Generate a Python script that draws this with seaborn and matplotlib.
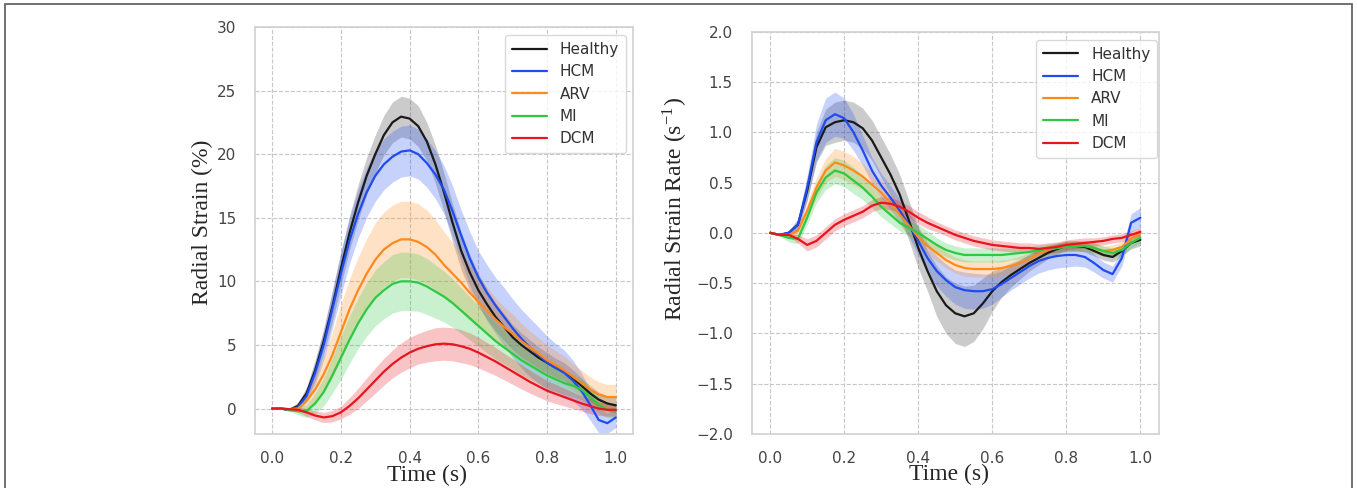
import matplotlib
matplotlib.use("Agg")
import matplotlib.pyplot as plt
import seaborn as sns
import numpy as np
from matplotlib.patches import Rectangle

# ---------------- data ----------------
time_s = [0.0, 0.025, 0.05, 0.075, 0.1, 0.125, 0.15, 0.175, 0.2, 0.225,
          0.25, 0.275, 0.3, 0.325, 0.35, 0.375, 0.4, 0.425, 0.45, 0.475,
          0.5, 0.525, 0.55, 0.575, 0.6, 0.625, 0.65, 0.675, 0.7, 0.725,
          0.75, 0.775, 0.8, 0.825, 0.85, 0.875, 0.9, 0.925, 0.95, 0.975, 1.0]
groups = ["Healthy", "HCM", "ARV", "MI", "DCM"]
colors = ["#1a1a1a", "#1f4cf0", "#ff8a1c", "#2ec942", "#e8141e"]
band_colors = ["#555555", "#1f4cf0", "#ff8a1c", "#2ec942", "#e8141e"]

# Radial strain (%) mean curves
strain_healthy = [0, 0, -0.1, 0.2, 1.2, 3.0, 5.3, 8.0, 11.0, 13.8,
                  16.2, 18.3, 20.0, 21.5, 22.5, 22.95, 22.8, 22.2, 21.0, 19.2,
                  17.0, 14.6, 12.4, 10.7, 9.3, 8.2, 7.2, 6.4, 5.6, 5.0,
                  4.5, 4.0, 3.6, 3.2, 2.9, 2.4, 1.8, 1.2, 0.7, 0.4, 0.25]
strain_hcm = [0, 0, -0.1, 0.1, 1.0, 2.8, 5.0, 7.8, 10.6, 13.2,
              15.3, 17.0, 18.3, 19.2, 19.8, 20.2, 20.3, 20.0, 19.3, 18.4,
              17.2, 15.5, 13.6, 11.8, 10.3, 9.1, 8.1, 7.2, 6.3, 5.5,
              4.8, 4.2, 3.6, 3.2, 2.8, 2.2, 1.4, 0.3, -0.9, -1.15, -0.7]
strain_arv = [0, 0, -0.05, 0, 0.6, 1.5, 2.7, 4.2, 6.0, 7.8,
              9.3, 10.6, 11.7, 12.5, 13.0, 13.3, 13.3, 13.1, 12.7, 12.1,
              11.3, 10.6, 9.9, 9.1, 8.4, 7.7, 7.0, 6.4, 5.9, 5.3,
              4.8, 4.3, 3.8, 3.4, 3.0, 2.5, 2.0, 1.5, 1.1, 0.9, 0.9]
strain_mi = [0, 0, -0.1, -0.2, -0.2, 0.4, 1.3, 2.6, 4.0, 5.4,
             6.7, 7.8, 8.7, 9.3, 9.8, 10.0, 10.0, 9.9, 9.6, 9.2,
             8.8, 8.3, 7.7, 7.1, 6.5, 5.9, 5.3, 4.8, 4.3, 3.8,
             3.4, 3.0, 2.6, 2.3, 2.0, 1.8, 1.5, 0.9, 0.3, -0.1, -0.2]
strain_dcm = [0, 0, -0.05, -0.1, -0.3, -0.55, -0.7, -0.6, -0.3, 0.2,
              0.8, 1.5, 2.2, 2.9, 3.5, 4.0, 4.4, 4.7, 4.9, 5.05,
              5.1, 5.05, 4.9, 4.7, 4.4, 4.05, 3.7, 3.3, 2.9, 2.5,
              2.1, 1.75, 1.4, 1.15, 0.9, 0.65, 0.4, 0.2, 0.0, -0.1, -0.1]

# Radial strain spread (half band width)
strain_sd_healthy = [0, .05, .1, .3, .5, .8, 1.0, 1.2, 1.3, 1.35,
                     1.4, 1.45, 1.5, 1.55, 1.6, 1.6, 1.6, 1.6, 1.5, 1.5,
                     1.5, 1.5, 1.5, 1.4, 1.3, 1.2, 1.1, 1.05, 1.0, 0.95,
                     0.9, 0.85, 0.8, 0.75, 0.7, 0.65, 0.6, 0.6, 0.6, 0.6, 0.6]
strain_sd_hcm = [0, .05, .1, .3, .5, .9, 1.2, 1.5, 1.7, 1.8,
                 1.9, 1.95, 2.0, 2.0, 2.0, 2.0, 2.0, 1.95, 1.9, 1.9,
                 1.9, 2.0, 2.0, 2.1, 2.1, 2.2, 2.2, 2.3, 2.3, 2.3,
                 2.3, 2.2, 2.1, 1.9, 1.8, 1.6, 1.4, 1.2, 1.0, 0.8, 0.8]
strain_sd_arv = [0, .05, .1, .3, .6, 1.0, 1.4, 1.8, 2.2, 2.4,
                 2.6, 2.75, 2.9, 2.95, 3.0, 3.0, 3.0, 3.0, 2.9, 2.75,
                 2.6, 2.45, 2.3, 2.15, 2.0, 1.85, 1.7, 1.6, 1.5, 1.4,
                 1.3, 1.25, 1.2, 1.15, 1.1, 1.05, 1.0, 1.0, 1.0, 1.0, 1.0]
strain_sd_mi = [0, .05, .1, .3, .5, .8, 1.1, 1.4, 1.7, 1.85,
                2.0, 2.1, 2.2, 2.25, 2.3, 2.3, 2.3, 2.25, 2.2, 2.1,
                2.0, 1.9, 1.8, 1.7, 1.6, 1.5, 1.4, 1.3, 1.2, 1.15,
                1.1, 1.05, 1.0, 0.95, 0.9, 0.85, 0.8, 0.7, 0.65, 0.6, 0.6]
strain_sd_dcm = [0, .05, .1, .2, .3, .35, .4, .45, .5, .65,
                 .8, .9, 1.0, 1.05, 1.1, 1.15, 1.2, 1.2, 1.25, 1.3,
                 1.3, 1.3, 1.3, 1.25, 1.2, 1.15, 1.1, 1.05, 1.0, 0.95,
                 0.9, 0.85, 0.8, 0.75, 0.7, 0.65, 0.6, 0.6, 0.55, 0.5, 0.5]

# Radial strain rate (1/s) mean curves
rate_healthy = [0, -0.02, 0.0, 0.08, 0.42, 0.85, 1.05, 1.1, 1.12, 1.1,
                1.04, 0.92, 0.75, 0.58, 0.38, 0.12, -0.15, -0.38, -0.58, -0.72,
                -0.8, -0.83, -0.8, -0.7, -0.58, -0.49, -0.42, -0.36, -0.3, -0.25,
                -0.2, -0.16, -0.13, -0.13, -0.14, -0.18, -0.22, -0.24, -0.18, -0.1, -0.07]
rate_hcm = [0, -0.02, 0.0, 0.08, 0.45, 0.9, 1.12, 1.18, 1.14, 1.0,
            0.82, 0.62, 0.47, 0.35, 0.22, 0.08, -0.08, -0.25, -0.38, -0.47,
            -0.54, -0.57, -0.58, -0.58, -0.56, -0.51, -0.45, -0.39, -0.33, -0.28,
            -0.25, -0.23, -0.22, -0.22, -0.24, -0.3, -0.37, -0.41, -0.25, 0.1, 0.15]
rate_arv = [0, -0.02, -0.02, 0.02, 0.22, 0.45, 0.62, 0.7, 0.67, 0.62,
            0.56, 0.48, 0.4, 0.3, 0.18, 0.07, -0.04, -0.13, -0.2, -0.27,
            -0.32, -0.35, -0.36, -0.36, -0.36, -0.35, -0.33, -0.3, -0.26, -0.21,
            -0.17, -0.15, -0.13, -0.13, -0.13, -0.15, -0.18, -0.17, -0.14, -0.06, 0.0]
rate_mi = [0, -0.02, -0.05, -0.06, 0.15, 0.4, 0.55, 0.62, 0.59, 0.52,
           0.45, 0.36, 0.26, 0.18, 0.1, 0.05, 0.0, -0.06, -0.12, -0.17,
           -0.2, -0.22, -0.22, -0.22, -0.22, -0.22, -0.21, -0.2, -0.19, -0.17,
           -0.16, -0.15, -0.14, -0.13, -0.13, -0.15, -0.18, -0.2, -0.17, -0.1, -0.05]
rate_dcm = [0, -0.02, -0.02, -0.06, -0.12, -0.08, 0.0, 0.08, 0.13, 0.17,
            0.21, 0.27, 0.3, 0.29, 0.26, 0.21, 0.15, 0.1, 0.06, 0.02,
            -0.02, -0.05, -0.08, -0.1, -0.12, -0.13, -0.14, -0.15, -0.15, -0.16,
            -0.15, -0.14, -0.12, -0.11, -0.1, -0.09, -0.08, -0.06, -0.05, -0.02, 0.01]

rate_sd_healthy = [0, .01, .02, .05, .1, .15, .18, .2, .2, .2,
                   .2, .2, .2, .2, .2, .2, .2, .2, .25, .28,
                   .3, .3, .28, .25, .2, .15, .12, .1, .08, .07,
                   .06, .05, .05, .05, .05, .05, .05, .05, .05, .06, .06]
rate_sd_hcm = [0, .01, .02, .06, .12, .18, .22, .22, .2, .18,
               .15, .13, .12, .12, .12, .12, .14, .15, .15, .16,
               .17, .18, .18, .17, .15, .13, .12, .12, .12, .12,
               .12, .12, .12, .11, .1, .09, .08, .08, .08, .09, .1]
rate_sd_arv = [0, .01, .02, .04, .07, .1, .12, .14, .14, .14,
               .13, .12, .12, .11, .1, .1, .09, .08, .08, .08,
               .08, .08, .08, .08, .08, .08, .07, .07, .06, .06,
               .05, .05, .05, .05, .05, .05, .05, .05, .05, .05, .05]
rate_sd_mi = [0, .01, .04, .05, .07, .1, .12, .13, .13, .13,
              .12, .11, .1, .09, .08, .08, .08, .08, .07, .07,
              .07, .07, .07, .07, .07, .07, .06, .06, .05, .05,
              .05, .05, .05, .05, .05, .05, .05, .05, .05, .05, .05]
rate_sd_dcm = [0, .01, .02, .04, .06, .06, .06, .06, .06, .06,
               .06, .06, .06, .06, .06, .06, .06, .06, .05, .05,
               .05, .05, .05, .05, .05, .05, .05, .05, .05, .05,
               .05, .05, .05, .05, .05, .04, .04, .04, .04, .04, .04]

xticks = [0.0, 0.2, 0.4, 0.6, 0.8, 1.0]
strain_yticks = [0, 5, 10, 15, 20, 25, 30]
rate_yticks = [-2.0, -1.5, -1.0, -0.5, 0.0, 0.5, 1.0, 1.5, 2.0]

# ---------------- style ----------------
sns.set_style("whitegrid", {"grid.linestyle": "--", "grid.color": ".78",
                            "axes.edgecolor": ".82"})
plt.rcParams["mathtext.fontset"] = "stix"

fig = plt.figure(figsize=(13.57, 4.88), dpi=100)
ax1 = fig.add_axes([0.1879, 0.1107, 0.2786, 0.834])
ax2 = fig.add_axes([0.5539, 0.1107, 0.3001, 0.8243])

serif = {"family": "Liberation Serif", "size": 17}

def draw(ax, means, sds, anchor):
    t = np.array(time_s)
    for g, c, bc, m, s in zip(groups, colors, band_colors, means, sds):
        m = np.array(m)
        s = np.array(s)
        ax.fill_between(t, m - s, m + s, color=bc, alpha=0.25 if g != "Healthy" else 0.3,
                        linewidth=0)
        sns.lineplot(x=t, y=m, color=c, label=g, ax=ax, linewidth=1.6)
    ax.set_xlim(-0.05, 1.05)
    ax.set_xticks(xticks)
    ax.tick_params(axis="x", pad=9, labelsize=11, labelcolor="#444444")
    ax.tick_params(axis="y", pad=10, labelsize=11, labelcolor="#444444")
    for sp in ax.spines.values():
        sp.set_linewidth(1.2)
    leg = ax.legend(loc="upper right", bbox_to_anchor=anchor, fontsize=11,
                    handlelength=2.3, handletextpad=0.85, labelspacing=0.48,
                    borderpad=0.45, frameon=True, borderaxespad=0.0)
    leg.get_frame().set_edgecolor("#d0d0d0")
    for txt in leg.get_texts():
        txt.set_color("#333333")
    ax.set_xlabel("Time (s)", fontdict=serif)

draw(ax1, [strain_healthy, strain_hcm, strain_arv, strain_mi, strain_dcm],
     [strain_sd_healthy, strain_sd_hcm, strain_sd_arv, strain_sd_mi, strain_sd_dcm],
     (0.9815, 0.980))
ax1.set_ylim(-2, 30)
ax1.set_yticks(strain_yticks)
ax1.set_ylabel("Radial Strain (%)", fontdict=serif)

draw(ax2, [rate_healthy, rate_hcm, rate_arv, rate_mi, rate_dcm],
     [rate_sd_healthy, rate_sd_hcm, rate_sd_arv, rate_sd_mi, rate_sd_dcm],
     (0.996, 0.980))
ax2.set_ylim(-2, 2)
ax2.set_yticks(rate_yticks)
ax2.set_ylabel("Radial Strain Rate (s$^{\\mathregular{-1}}$)", fontdict=serif)

ax1.xaxis.set_label_coords(0.454, -0.075)
ax2.xaxis.set_label_coords(0.484, -0.075)
ax1.yaxis.set_label_coords(-0.11, 0.52)
ax2.yaxis.set_label_coords(-0.151, 0.56)

# outer figure frame (bottom edge lies outside the image)
fig.patches.append(Rectangle((4.5 / 1357, -0.1), 1347.5 / 1357, 1.1 - 4.5 / 488,
                             transform=fig.transFigure, fill=False,
                             edgecolor="#666666", linewidth=1.3, zorder=10))

fig.savefig("out.png", dpi=100)
